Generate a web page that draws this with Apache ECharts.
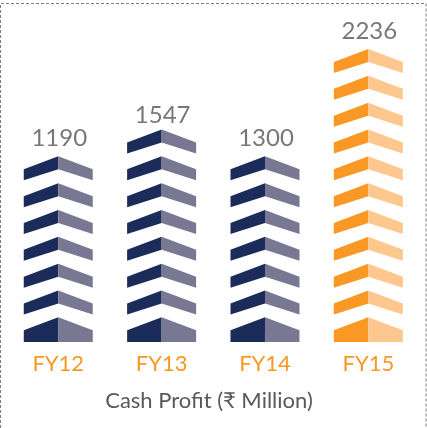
<!DOCTYPE html>
<html><head><meta charset="utf-8"><style>html,body{margin:0;padding:0;background:#fff}#c{width:427px;height:428px}</style>
<script src="https://cdn.jsdelivr.net/npm/echarts@6/dist/echarts.min.js"></script></head>
<body><div id="c"></div><script>
const categories = ['FY12','FY13','FY14','FY15'];
const cashProfit = [1190,1547,1300,2236];
const chevronCounts = [7,8,7,11];
const leftColors = ['#1b2c5b','#1b2c5b','#1b2c5b','#f99824'];
const rightColors = ['#797892','#797892','#797892','#fec78e'];
const axisTitle = 'Cash Profit (₹ Million)';
const FONT = 'Lato, "Open Sans", sans-serif';
const chart = echarts.init(document.getElementById('c'),null,{renderer:'canvas'});
function renderItem(params, api){
  const idx = api.value(0), n = api.value(1);
  const cx = api.coord([idx,0])[0];
  const halfW = 34.5, slope = 13, centerH = 13, tipH = 11;
  const kids = [];
  for(let i=0;i<n;i++){
    const bottomY = api.coord([idx,i])[1];
    const apex = bottomY - 24.7;
    const lowL = i===0 ? bottomY : apex+slope+tipH;
    const lowC = i===0 ? bottomY : apex+centerH;
    kids.push({type:'polygon',shape:{points:[[cx-halfW,apex+slope],[cx,apex],[cx,lowC],[cx-halfW,lowL]]},style:{fill:leftColors[idx]}});
    kids.push({type:'polygon',shape:{points:[[cx,apex],[cx+halfW,apex+slope],[cx+halfW,lowL],[cx,lowC]]},style:{fill:rightColors[idx]}});
  }
  return {type:'group',children:kids};
}
chart.setOption({
  animation:false,
  backgroundColor:'#fff',
  grid:{left:6.6,right:7,top:20,bottom:86},
  xAxis:{type:'category',data:categories,axisLine:{show:false},axisTick:{show:false},
    axisLabel:{color:'#f99824',fontFamily:FONT,fontSize:22,margin:11}},
  yAxis:{type:'value',min:0,max:12,interval:1,show:false},
  graphic:[
    {type:'polyline',shape:{points:[[0.5,428],[0.5,3.5],[426,3.5],[426,428]]},style:{fill:'none',stroke:'#7f7f7f',lineWidth:1,lineDash:[3,2]}},
    {type:'text',x:209,y:401,style:{text:axisTitle,fill:'#595959',font:'22px '+FONT,textAlign:'center',textVerticalAlign:'middle'}}
  ],
  series:[
    {type:'custom',renderItem,encode:{x:0,y:1},clip:false,
     data:categories.map((c,i)=>[i,chevronCounts[i]])},
    {type:'scatter',symbolSize:0,silent:true,
     data:categories.map((c,i)=>({value:[i,chevronCounts[i]],label:{show:true,position:'top',distance:[4,0,4,4][i],offset:[1,0],formatter:String(cashProfit[i]),color:'#555555',fontFamily:FONT,fontSize:24}}))}
  ]
});
</script></body></html>
